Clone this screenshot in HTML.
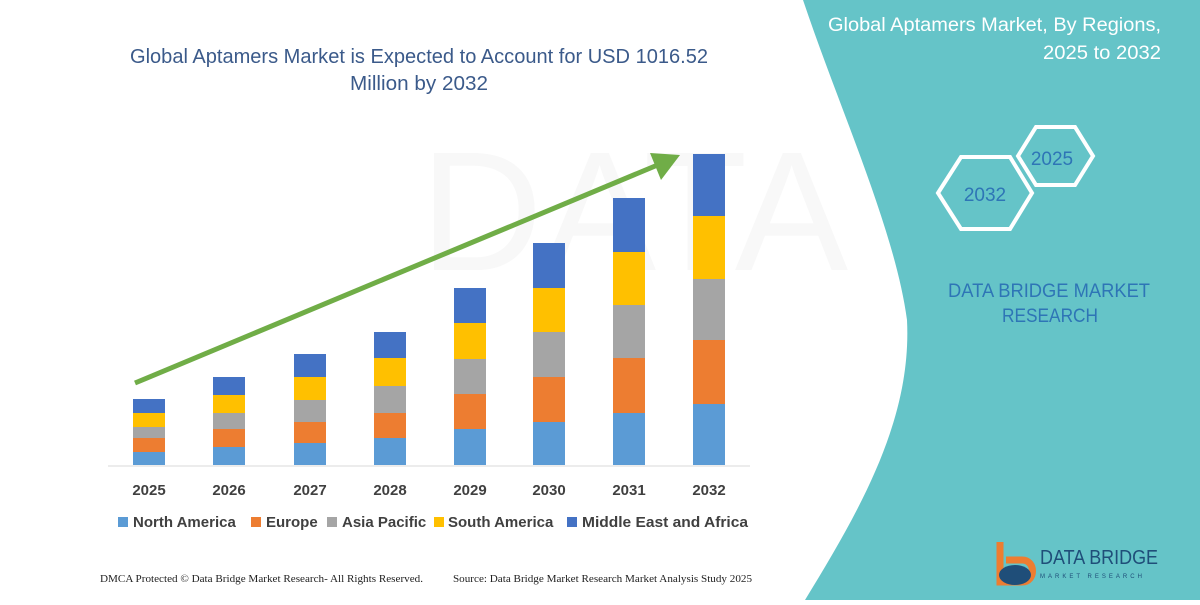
<!DOCTYPE html>
<html><head><meta charset="utf-8"><style>
body{margin:0;width:1200px;height:600px;overflow:hidden;background:#fff;font-family:"Liberation Sans",sans-serif}
</style></head><body>
<svg width="1200" height="600" xmlns="http://www.w3.org/2000/svg">
<rect width="1200" height="600" fill="#fff"/>
<text x="420" y="270" font-size="170" fill="#f8f8f8" font-family="Liberation Sans">DATA BRIDGE</text>
<path d="M803,0 C840,110 895,230 907,320 C912,420 860,510 805,600 L1200,600 L1200,0 Z" fill="#65C4C8"/>
<text x="1161" y="31" font-size="19" fill="#fff" text-anchor="end" textLength="333" lengthAdjust="spacingAndGlyphs">Global Aptamers Market, By Regions,</text>
<text x="1161" y="59" font-size="19" fill="#fff" text-anchor="end" textLength="118" lengthAdjust="spacingAndGlyphs">2025 to 2032</text>
<polygon points="1018,156 1036,127 1075,127 1093,156 1075,185 1036,185" fill="none" stroke="#fff" stroke-width="4"/>
<polygon points="938,193 961,157 1010,157 1032,193 1010,229 961,229" fill="none" stroke="#fff" stroke-width="4"/>
<text x="1052" y="165" font-size="19" fill="#2E75B6" text-anchor="middle">2025</text>
<text x="985" y="201" font-size="19" fill="#2E75B6" text-anchor="middle">2032</text>
<text x="1049" y="297" font-size="19" fill="#2E75B6" text-anchor="middle" textLength="202" lengthAdjust="spacingAndGlyphs">DATA BRIDGE MARKET</text>
<text x="1050" y="322" font-size="19" fill="#2E75B6" text-anchor="middle" textLength="96" lengthAdjust="spacingAndGlyphs">RESEARCH</text>
<path d="M1000,542 L1000,582 L1022,582 C1036,582 1036,560 1022,560 L1006,560" fill="none" stroke="#ED7D31" stroke-width="7"/>
<ellipse cx="1015" cy="575" rx="16" ry="10" fill="#1F4E79"/>
<text x="1040" y="564" font-size="20" fill="#1F4E79" textLength="118" lengthAdjust="spacingAndGlyphs">DATA BRIDGE</text>
<text x="1040" y="578" font-size="6" fill="#1F4E79" letter-spacing="3">MARKET RESEARCH</text>
<text x="419" y="63" font-size="20" fill="#3B5A8A" text-anchor="middle" textLength="578" lengthAdjust="spacingAndGlyphs">Global Aptamers Market is Expected to Account for USD 1016.52</text>
<text x="419" y="90" font-size="20" fill="#3B5A8A" text-anchor="middle" textLength="138" lengthAdjust="spacingAndGlyphs">Million by 2032</text>
<line x1="108" y1="466" x2="750" y2="466" stroke="#d9d9d9"/>
<g>
<rect x="133" y="452" width="32" height="13" fill="#5B9BD5"/><rect x="133" y="438" width="32" height="14" fill="#ED7D31"/><rect x="133" y="427" width="32" height="11" fill="#A5A5A5"/><rect x="133" y="413" width="32" height="14" fill="#FFC000"/><rect x="133" y="399" width="32" height="14" fill="#4472C4"/>
<rect x="213" y="447" width="32" height="18" fill="#5B9BD5"/><rect x="213" y="429" width="32" height="18" fill="#ED7D31"/><rect x="213" y="413" width="32" height="16" fill="#A5A5A5"/><rect x="213" y="395" width="32" height="18" fill="#FFC000"/><rect x="213" y="377" width="32" height="18" fill="#4472C4"/>
<rect x="294" y="443" width="32" height="22" fill="#5B9BD5"/><rect x="294" y="422" width="32" height="21" fill="#ED7D31"/><rect x="294" y="400" width="32" height="22" fill="#A5A5A5"/><rect x="294" y="377" width="32" height="23" fill="#FFC000"/><rect x="294" y="354" width="32" height="23" fill="#4472C4"/>
<rect x="374" y="438" width="32" height="27" fill="#5B9BD5"/><rect x="374" y="413" width="32" height="25" fill="#ED7D31"/><rect x="374" y="386" width="32" height="27" fill="#A5A5A5"/><rect x="374" y="358" width="32" height="28" fill="#FFC000"/><rect x="374" y="332" width="32" height="26" fill="#4472C4"/>
<rect x="454" y="429" width="32" height="36" fill="#5B9BD5"/><rect x="454" y="394" width="32" height="35" fill="#ED7D31"/><rect x="454" y="359" width="32" height="35" fill="#A5A5A5"/><rect x="454" y="323" width="32" height="36" fill="#FFC000"/><rect x="454" y="288" width="32" height="35" fill="#4472C4"/>
<rect x="533" y="422" width="32" height="43" fill="#5B9BD5"/><rect x="533" y="377" width="32" height="45" fill="#ED7D31"/><rect x="533" y="332" width="32" height="45" fill="#A5A5A5"/><rect x="533" y="288" width="32" height="44" fill="#FFC000"/><rect x="533" y="243" width="32" height="45" fill="#4472C4"/>
<rect x="613" y="413" width="32" height="52" fill="#5B9BD5"/><rect x="613" y="358" width="32" height="55" fill="#ED7D31"/><rect x="613" y="305" width="32" height="53" fill="#A5A5A5"/><rect x="613" y="252" width="32" height="53" fill="#FFC000"/><rect x="613" y="198" width="32" height="54" fill="#4472C4"/>
<rect x="693" y="404" width="32" height="61" fill="#5B9BD5"/><rect x="693" y="340" width="32" height="64" fill="#ED7D31"/><rect x="693" y="279" width="32" height="61" fill="#A5A5A5"/><rect x="693" y="216" width="32" height="63" fill="#FFC000"/><rect x="693" y="154" width="32" height="62" fill="#4472C4"/>
</g>
<line x1="135" y1="383" x2="660" y2="164" stroke="#70AD47" stroke-width="5"/>
<polygon points="680,155 650,153 661,180" fill="#70AD47"/>
<g font-size="15" font-weight="bold" fill="#404040" text-anchor="middle">
<text x="149" y="495">2025</text><text x="229" y="495">2026</text><text x="310" y="495">2027</text><text x="390" y="495">2028</text><text x="470" y="495">2029</text><text x="549" y="495">2030</text><text x="629" y="495">2031</text><text x="709" y="495">2032</text>
</g>
<g font-size="15" font-weight="bold" fill="#404040">
<rect x="118" y="517" width="10" height="10" fill="#5B9BD5"/><text x="133" y="527">North America</text>
<rect x="251" y="517" width="10" height="10" fill="#ED7D31"/><text x="266" y="527">Europe</text>
<rect x="327" y="517" width="10" height="10" fill="#A5A5A5"/><text x="342" y="527">Asia Pacific</text>
<rect x="434" y="517" width="10" height="10" fill="#FFC000"/><text x="448" y="527">South America</text>
<rect x="567" y="517" width="10" height="10" fill="#4472C4"/><text x="582" y="527" textLength="166" lengthAdjust="spacingAndGlyphs">Middle East and Africa</text>
</g>
<text x="100" y="582" font-size="10" fill="#222" font-family="Liberation Serif" textLength="323" lengthAdjust="spacingAndGlyphs">DMCA Protected © Data Bridge Market Research-  All Rights Reserved.</text>
<text x="453" y="582" font-size="10" fill="#222" font-family="Liberation Serif" textLength="299" lengthAdjust="spacingAndGlyphs">Source: Data Bridge Market Research  Market Analysis Study 2025</text>
</svg>
</body></html>
